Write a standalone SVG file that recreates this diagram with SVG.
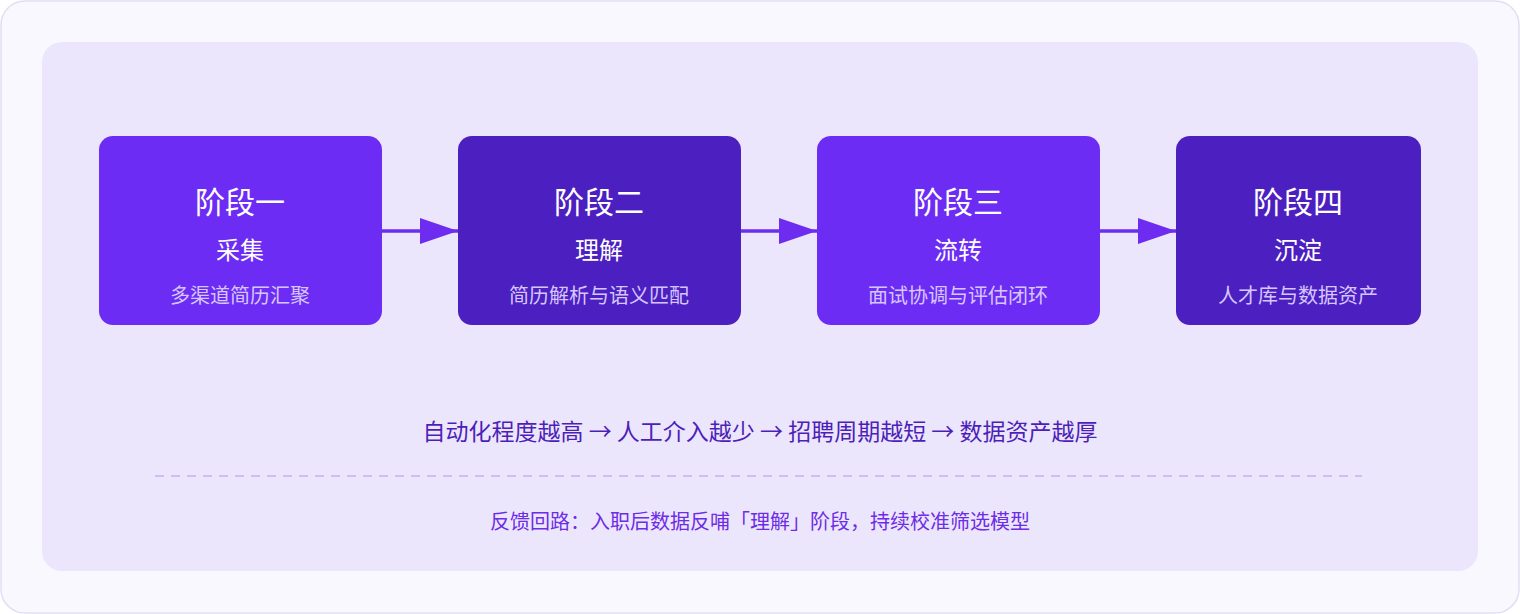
<svg xmlns="http://www.w3.org/2000/svg" width="1520" height="614" viewBox="0 0 1520 614">
<defs>
<style>
.t{font-family:"Noto Sans CJK SC","Noto Sans",sans-serif;text-anchor:middle}
.h{fill:#fff;font-size:30px}
.s{fill:#fff;font-size:24px}
.d{fill:#d6c6ff;font-size:20px}
.a{fill:#7c3aed;fill-opacity:0}
.c{stroke:#6d2cf0;stroke-width:3.5;fill:none}
</style>
<marker id="ar" markerWidth="38" markerHeight="26" refX="38" refY="13" orient="auto" markerUnits="userSpaceOnUse"><path d="M0,0 L38,13 L0,26 Z" fill="#6d2cf0"/></marker>
</defs>
<rect x="1" y="1" width="1518" height="612" rx="24" fill="#f9f8ff" stroke="#e2def2" stroke-width="1.5"/>
<rect x="42" y="42" width="1436" height="529" rx="20" fill="#ece6fc"/>
<g id="n1"><rect x="99" y="136" width="283" height="189" rx="14" fill="#6d2cf4"/><text class="t h" x="240" y="213">阶段一</text><text class="t s" x="240" y="259">采集</text><text class="t d" x="240" y="303">多渠道简历汇聚</text></g>
<g id="n2"><rect x="458" y="136" width="283" height="189" rx="14" fill="#4c1fc0"/><text class="t h" x="599" y="213">阶段二</text><text class="t s" x="599" y="259">理解</text><text class="t d" x="599" y="303">简历解析与语义匹配</text></g>
<g id="n3"><rect x="817" y="136" width="283" height="189" rx="14" fill="#6d2cf4"/><text class="t h" x="958" y="213">阶段三</text><text class="t s" x="958" y="259">流转</text><text class="t d" x="958" y="303">面试协调与评估闭环</text></g>
<g id="n4"><rect x="1176" y="136" width="245" height="189" rx="14" fill="#4c1fc0"/><text class="t h" x="1298" y="213">阶段四</text><text class="t s" x="1298" y="259">沉淀</text><text class="t d" x="1298" y="303">人才库与数据资产</text></g>
<g id="connectors">
<line class="c" x1="382" y1="231" x2="458" y2="231" marker-end="url(#ar)"/>
<line class="c" x1="741" y1="231" x2="817" y2="231" marker-end="url(#ar)"/>
<line class="c" x1="1100" y1="231" x2="1176" y2="231" marker-end="url(#ar)"/>
</g>
<text class="t" x="760" y="440" font-size="23" fill="#4c1fb8">自动化程度越高 → 人工介入越少 → 招聘周期越短 → 数据资产越厚</text>
<line x1="155" y1="476" x2="1362" y2="476" stroke="#cdbff5" stroke-width="2" stroke-dasharray="9 7"/>
<text class="t" x="760" y="529" font-size="20" fill="#6d2ce6">反馈回路：入职后数据反哺「理解」阶段，持续校准筛选模型</text>
</svg>
